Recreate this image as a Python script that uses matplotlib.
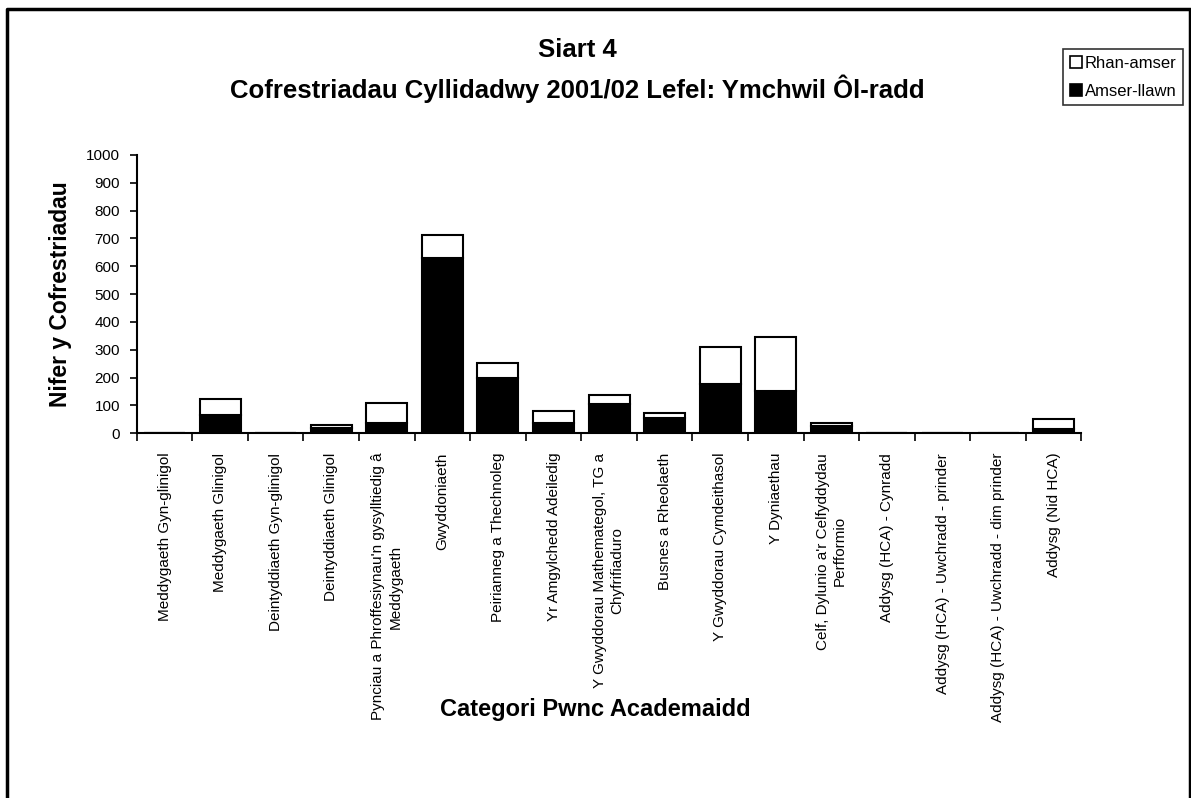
import matplotlib.pyplot as plt
from matplotlib.lines import Line2D
from matplotlib.patches import Patch

plt.rcParams['font.family'] = ['Liberation Sans', 'DejaVu Sans']

categories = [
    'Meddygaeth Gyn-glinigol',
    'Meddygaeth Glinigol',
    'Deintyddiaeth Gyn-glinigol',
    'Deintyddiaeth Glinigol',
    "Pynciau a Phroffesiynau'n gysylltiedig â\nMeddygaeth",
    'Gwyddoniaeth',
    'Peirianneg a Thechnoleg',
    'Yr Amgylchedd Adeiledig',
    'Y Gwyddorau Mathemategol, TG a\nChyfrifiaduro',
    'Busnes a Rheolaeth',
    'Y Gwyddorau Cymdeithasol',
    'Y Dyniaethau',
    "Celf, Dylunio a'r Celfyddydau\nPerfformio",
    'Addysg (HCA) - Cynradd',
    'Addysg (HCA) - Uwchradd - prinder',
    'Addysg (HCA) - Uwchradd - dim prinder',
    'Addysg (Nid HCA)',
]
full_time = [0, 65, 0, 18, 38, 629, 198, 38, 104, 54, 176, 153, 26, 0, 0, 0, 17]
part_time = [0, 58, 0, 12, 70, 84, 56, 42, 34, 18, 133, 192, 10, 0, 0, 0, 33]

fig = plt.figure(figsize=(11.91, 7.98), dpi=100)
ax = fig.add_axes([0.1148, 0.457, 0.7932, 0.349])

x = list(range(len(categories)))
ax.bar(x, full_time, width=0.74, color='black', edgecolor='black', linewidth=1.5,
       label='Amser-llawn')
ax.bar(x, part_time, width=0.74, bottom=full_time, color='white', edgecolor='black',
       linewidth=1.5, label='Rhan-amser')

ax.set_xlim(-0.5, len(categories) - 0.5)
ax.set_ylim(0, 1000)
ax.set_yticks(range(0, 1001, 100))
ax.set_xticks([i - 0.5 for i in range(len(categories) + 1)], minor=False)
ax.set_xticklabels([])
ax.set_xticks(x, minor=True)
ax.set_xticklabels(categories, minor=True, rotation=90, fontsize=11,
                   ha='center', va='top', multialignment='center', linespacing=1.3)
ax.tick_params(axis='x', which='minor', length=0, pad=14)
ax.tick_params(axis='x', which='major', direction='out', length=6, width=1.2)
ax.tick_params(axis='y', direction='out', length=5, width=1.2, labelsize=11, pad=7)
for s in ['top', 'right']:
    ax.spines[s].set_visible(False)
for s in ['left', 'bottom']:
    ax.spines[s].set_linewidth(1.5)

ax.set_ylabel('Nifer y Cofrestriadau', fontsize=16.5, fontweight='bold', labelpad=10)
fig.text(0.50, 0.111, 'Categori Pwnc Academaidd', fontsize=17, fontweight='bold',
         ha='center', va='center')

fig.text(0.4845, 0.937, 'Siart 4', fontsize=18.5, fontweight='bold', ha='center', va='center')
fig.text(0.4845, 0.889, 'Cofrestriadau Cyllidadwy 2001/02 Lefel: Ymchwil Ôl-radd',
         fontsize=18.5, fontweight='bold', ha='center', va='center')

handles = [Patch(facecolor='white', edgecolor='black', linewidth=1.2, label='Rhan-amser'),
           Patch(facecolor='black', edgecolor='black', linewidth=1.2, label='Amser-llawn')]
leg = fig.legend(handles=handles, loc='upper right', bbox_to_anchor=(0.9935, 0.938),
                 fontsize=12, frameon=True, fancybox=False, edgecolor='black',
                 handlelength=0.75, handleheight=0.75, handletextpad=0.15,
                 borderpad=0.4, labelspacing=0.75, borderaxespad=0)
leg.get_frame().set_linewidth(1.2)

# outer chart border
fig.add_artist(Line2D([0.006, 0.006, 0.9995, 0.9995], [0.0, 0.989, 0.989, 0.0],
                      transform=fig.transFigure, color='black', linewidth=2.5))

fig.savefig('out.png', dpi=100)
